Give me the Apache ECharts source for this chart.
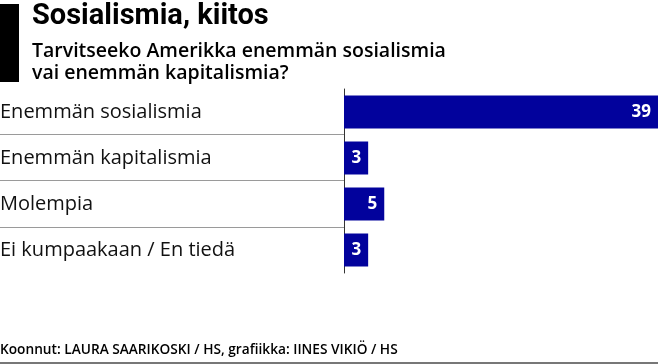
<!DOCTYPE html>
<html><head><meta charset="utf-8">
<script src="https://cdn.jsdelivr.net/npm/echarts@6/dist/echarts.min.js"></script>
<style>html,body{margin:0;padding:0;background:#fff}#c{width:658px;height:364px}</style>
</head><body><div id="c"></div>
<script>
const titleText = 'Sosialismia, kiitos';
const subtitleText = 'Tarvitseeko Amerikka enemmän sosialismia\nvai enemmän kapitalismia?';
const sourceText = 'Koonnut: LAURA SAARIKOSKI / HS, grafiikka: IINES VIKIÖ / HS';
const categories = ['Enemmän sosialismia', 'Enemmän kapitalismia', 'Molempia', 'Ei kumpaakaan / En tiedä'];
const values = [39, 3, 5, 3];
const separatorSteps = [0, 1, 2];

const FONT = '"Open Sans", "Noto Sans", sans-serif';
const chart = echarts.init(document.getElementById('c'), null, {renderer: 'canvas'});
chart.setOption({
  animation: false,
  backgroundColor: '#fff',
  title: [
    {text: titleText, left: 27, top: -3, textStyle: {fontFamily: 'Roboto, sans-serif', fontWeight: 'bold', fontSize: 29, color: '#000', letterSpacing: -0.5}},
    {text: subtitleText, left: 27, top: 35, textStyle: {fontFamily: FONT, fontWeight: 600, fontSize: 19.5, lineHeight: 22.5, color: '#000', letterSpacing: 0.2}},
    {text: sourceText, left: -5, top: 338, textStyle: {fontFamily: FONT, fontWeight: 600, fontSize: 13.7, color: '#000'}}
  ],
  graphic: [
    {type: 'rect', left: 0, top: 4, shape: {width: 19, height: 78}, style: {fill: '#000'}},
    {type: 'rect', left: 0, top: 362, shape: {width: 658, height: 2}, style: {fill: '#777'}}
  ],
  grid: [
    {left: 344, right: 0, top: 89, bottom: 91, containLabel: false, outerBoundsMode: 'none'},
    {left: 0, width: 344, top: 134, height: 93, containLabel: false, outerBoundsMode: 'none'}
  ],
  xAxis: [
    {gridIndex: 0, type: 'value', min: 0, max: function (v) { return v.max; }, show: false},
    {gridIndex: 1, type: 'value', min: 0, max: 1, show: false}
  ],
  yAxis: [
    {gridIndex: 0, type: 'category', data: categories, inverse: true,
      axisLine: {show: true, lineStyle: {color: '#333', width: 1}},
      axisTick: {show: false}, splitLine: {show: false},
      axisLabel: {margin: 344, align: 'left', fontFamily: FONT, fontSize: 20, color: '#111'}},
    {gridIndex: 1, type: 'value', min: separatorSteps[0], max: separatorSteps[separatorSteps.length - 1], interval: 1,
      axisLine: {show: false}, axisTick: {show: false}, axisLabel: {show: false},
      splitLine: {show: true, lineStyle: {color: '#9a9a9a', width: 1}}}
  ],
  series: [{
    type: 'bar', xAxisIndex: 0, yAxisIndex: 0, data: values, barWidth: 33,
    itemStyle: {color: '#02029c'},
    label: {show: true, position: 'insideRight', distance: 7, color: '#fff', fontFamily: FONT, fontWeight: 'bold', fontSize: 17}
  }]
});
</script></body></html>
